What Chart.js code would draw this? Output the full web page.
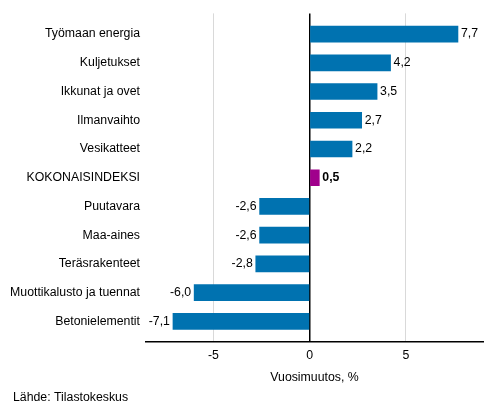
<!DOCTYPE html>
<html><head><meta charset="utf-8">
<script src="https://cdn.jsdelivr.net/npm/chart.js@4/dist/chart.umd.min.js"></script>
<style>html,body{margin:0;padding:0;background:#fff}#wrap{width:493px;height:416px}</style>
</head><body><div id="wrap"><canvas id="c"></canvas></div>
<script>
const categories = ["Työmaan energia","Kuljetukset","Ikkunat ja ovet","Ilmanvaihto","Vesikatteet","KOKONAISINDEKSI","Puutavara","Maa-aines","Teräsrakenteet","Muottikalusto ja tuennat","Betonielementit"];
const values = [7.7,4.2,3.5,2.7,2.2,0.5,-2.6,-2.6,-2.8,-6.0,-7.1];
const highlight = "KOKONAISINDEKSI";
const xTicks = [-5,0,5];
const axisTitle = "Vuosimuutos, %";
const source = "Lähde: Tilastokeskus";

const FONT = "'Liberation Sans', Arial, sans-serif";
const FS = 12.3;
const blue = "#0072b0", magenta = "#a0008c";
const fmt = v => v.toFixed(1).replace(".", ",");

const labelPlugin = {
  id: "vals",
  afterDatasetsDraw(chart) {
    const ctx = chart.ctx;
    const meta = chart.getDatasetMeta(0);
    ctx.save();
    ctx.fillStyle = "#000";
    ctx.textBaseline = "middle";
    meta.data.forEach((bar, i) => {
      const v = values[i];
      ctx.font = (categories[i] === highlight ? "bold " : "") + FS + "px " + FONT;
      if (v >= 0) { ctx.textAlign = "left"; ctx.fillText(fmt(v), bar.x + 3, bar.y); }
      else { ctx.textAlign = "right"; ctx.fillText(fmt(v), bar.x - 3, bar.y); }
    });
    ctx.font = FS + "px " + FONT;
    ctx.textAlign = "left";
    ctx.fillText(source, 13, 398);
    ctx.restore();
  }
};

new Chart(document.getElementById("c"), {
  type: "bar",
  data: {
    labels: categories,
    datasets: [{
      data: values,
      backgroundColor: categories.map(c => c === highlight ? magenta : blue),
      barThickness: 16,
      borderWidth: 0
    }]
  },
  plugins: [labelPlugin],
  options: {
    indexAxis: "y",
    responsive: true,
    maintainAspectRatio: false,
    animation: false,
    layout: { padding: { left: 0, right: 10, top: 5, bottom: 31 } },
    plugins: {
      legend: { display: false },
      tooltip: { enabled: false }
    },
    scales: {
      x: {
        min: -8.5, max: 9,
        afterBuildTicks: s => { s.ticks = xTicks.map(v => ({ value: v })); },
        grid: {
          color: ctx => ctx.tick && ctx.tick.value === 0 ? "#000" : "#d9d9d9",
          lineWidth: ctx => ctx.tick && ctx.tick.value === 0 ? 1.5 : 1,
          drawTicks: false
        },
        border: { display: true, color: "#000", width: 1.5 },
        ticks: { color: "#000", font: { family: FONT, size: FS }, padding: 7, callback: v => String(v) },
        title: { display: true, text: axisTitle, color: "#000", font: { family: FONT, size: FS }, padding: { top: 0, bottom: 0 } }
      },
      y: {
        afterFit: s => { s.width = 146; },
        afterBuildTicks: s => { s._startValue = -0.72; s._valueRange = 11.42; },
        grid: { display: false, drawTicks: false },
        border: { display: false },
        ticks: { color: "#000", font: { family: FONT, size: FS }, padding: 6, autoSkip: false }
      }
    }
  }
});
</script></body></html>
